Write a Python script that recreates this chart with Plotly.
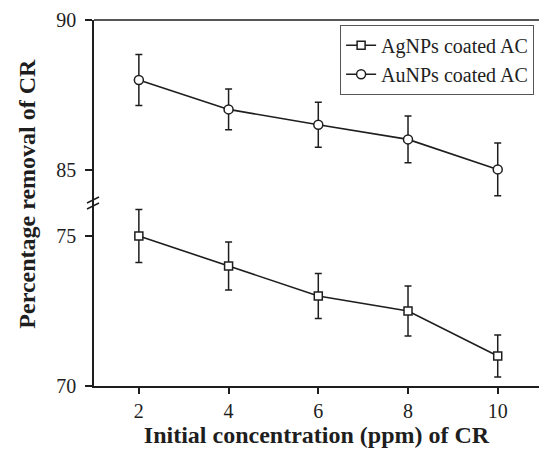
import plotly.graph_objects as go

conc = [2, 4, 6, 8, 10]
ag_vals = [75.0, 74.0, 73.0, 72.5, 71.0]
ag_err = [0.88, 0.8, 0.75, 0.83, 0.7]
au_vals = [88.0, 87.02, 86.51, 86.02, 85.02]
au_err = [0.85, 0.68, 0.75, 0.78, 0.88]
lower_ticks = [70, 75]
upper_ticks = [85, 90]
x_ticks = [2, 4, 6, 8, 10]

INK = "#1e1e1e"
FONT = "Liberation Serif"

fig = go.Figure()
fig.add_trace(go.Scatter(
    x=conc, y=ag_vals, name="AgNPs coated AC", mode="lines+markers",
    line=dict(color=INK, width=1.6),
    marker=dict(symbol="square", size=8, color="white", line=dict(color=INK, width=1.5)),
    error_y=dict(type="data", array=ag_err, visible=True, color=INK, thickness=1.5, width=3.5),
    xaxis="x", yaxis="y",
))
fig.add_trace(go.Scatter(
    x=conc, y=au_vals, name="AuNPs coated AC", mode="lines+markers",
    line=dict(color=INK, width=1.6),
    marker=dict(symbol="circle", size=9, color="white", line=dict(color=INK, width=1.5)),
    error_y=dict(type="data", array=au_err, visible=True, color=INK, thickness=1.5, width=3.5),
    xaxis="x", yaxis="y2",
))

axis_common = dict(showgrid=False, zeroline=False, showline=True, linecolor=INK, linewidth=1.6,
                   ticks="outside", tickwidth=1.5, tickcolor=INK,
                   tickfont=dict(family=FONT, size=20, color=INK))

fig.update_layout(
    width=539, height=454,
    margin=dict(l=94, r=0, t=20, b=68),
    paper_bgcolor="white", plot_bgcolor="white",
    showlegend=True,
    legend=dict(x=0.989, y=0.987, xanchor="right", yanchor="top",
                bordercolor="#555", borderwidth=1, bgcolor="white",
                font=dict(family=FONT, size=20, color=INK),
                tracegroupgap=0, itemwidth=30),
    xaxis=dict(range=[1.0, 10.92], tickvals=x_ticks, anchor="y", ticklen=6,
               title=dict(text="<b>Initial concentration (ppm) of CR</b>",
                          font=dict(family=FONT, size=24, color=INK), standoff=2),
               **axis_common),
    yaxis=dict(domain=[0, 0.5], range=[70, 76.1], tickvals=lower_ticks, anchor="x", ticklen=7,
               ticklabelstandoff=5, **axis_common),
    yaxis2=dict(domain=[0.5, 1], range=[83.9, 90], tickvals=upper_ticks, anchor="x", ticklen=7,
                ticklabelstandoff=5, **axis_common),
)

# y title
fig.add_annotation(text="<b>Percentage removal of CR</b>", xref="paper", yref="paper",
                   x=-0.151, y=0.525, xanchor="center", yanchor="middle", textangle=-90, showarrow=False,
                   font=dict(family=FONT, size=24, color=INK))

# top border line
fig.add_shape(type="line", xref="paper", yref="paper", x0=0, x1=1, y0=1, y1=1,
              line=dict(color=INK, width=1.6))

# axis break marks
def px2paper(px, py):
    return (px - 94) / 445, (386 - py) / 366

for dy in (0, 6):
    x0, y0 = px2paper(87, 203 + dy)
    x1, y1 = px2paper(99, 197 + dy)
    fig.add_shape(type="line", xref="paper", yref="paper", x0=x0, y0=y0, x1=x1, y1=y1,
                  line=dict(color=INK, width=1.4))

fig.write_html("out.html")
